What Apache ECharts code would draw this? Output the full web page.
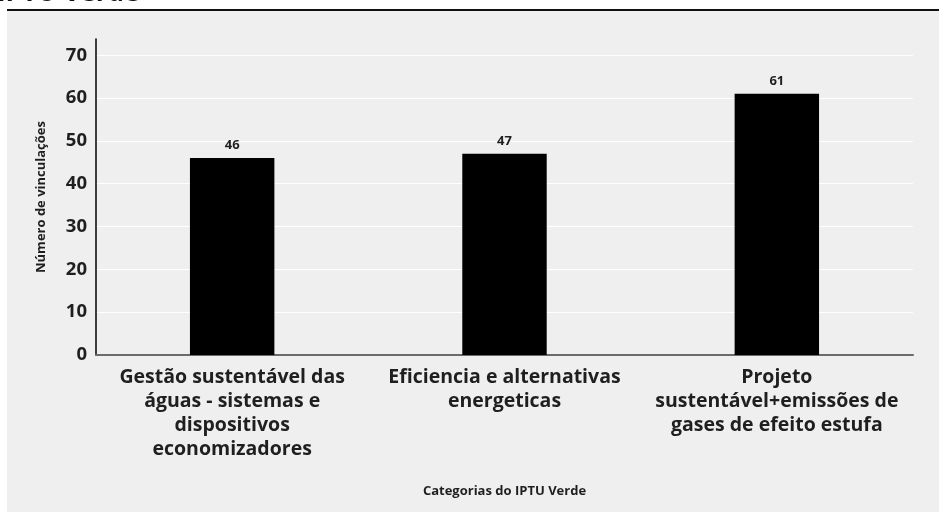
<!DOCTYPE html>
<html>
<head>
<meta charset="utf-8">
<script src="https://cdn.jsdelivr.net/npm/echarts@6/dist/echarts.min.js"></script>
<style>
  html, body { margin: 0; padding: 0; background: #ffffff; }
  #chart { width: 939px; height: 512px; }
</style>
</head>
<body>
<div id="chart"></div>
<script>
// Categorias e número de vinculações por categoria do IPTU Verde
const categories = [
  'Gestão sustentável das\náguas - sistemas e\ndispositivos\neconomizadores',
  'Eficiencia e alternativas\nenergeticas',
  'Projeto\nsustentável+emissões de\ngases de efeito estufa'
];
const vinculacoes = [46, 47, 61];
const yTicks = [0, 10, 20, 30, 40, 50, 60, 70];

const FONT = '"Open Sans", "Noto Sans", sans-serif';
const TEXT = '#1f1f1f';

const chart = echarts.init(document.getElementById('chart'), null, { renderer: 'canvas' });

chart.setOption({
  animation: false,
  backgroundColor: '#ffffff',
  textStyle: { fontFamily: FONT },
  graphic: [
    { type: 'rect', z: -10, shape: { x: 7, y: 11, width: 932, height: 501 },
      style: { fill: '#efefef' } },
    { type: 'rect', z: -9, shape: { x: 7, y: 9, width: 932, height: 2 },
      style: { fill: '#111111' } },
    { type: 'text', left: -3, top: -19, z: 10,
      style: { text: 'IPTU Verde', font: '700 26px ' + FONT, fill: '#111111' } }
  ],
  grid: { left: 96, right: 26, top: 39, bottom: 157, containLabel: false },
  xAxis: {
    type: 'category',
    data: categories,
    name: 'Categorias do IPTU Verde',
    nameLocation: 'middle',
    nameGap: 130,
    nameTextStyle: { fontFamily: FONT, fontWeight: 'bold', fontSize: 13, color: TEXT },
    axisLine: { show: true, lineStyle: { color: '#6b6b6b', width: 2 } },
    axisTick: { show: false },
    splitLine: { show: false },
    axisLabel: {
      interval: 0, margin: 10, fontFamily: FONT, fontWeight: 'bold', fontSize: 19.5,
      color: TEXT, lineHeight: 24, align: 'center'
    }
  },
  yAxis: {
    type: 'value',
    min: 0,
    max: 73.8,
    interval: 10,
    name: 'Número de vinculações',
    nameLocation: 'middle',
    nameGap: 48,
    nameRotate: 90,
    nameTextStyle: { fontFamily: FONT, fontWeight: 'bold', fontSize: 13, color: TEXT },
    axisLine: { show: true, lineStyle: { color: '#000000', width: 1.5 } },
    axisTick: { show: false },
    splitLine: { show: true, showMaxLine: false, showMinLine: false,
                 lineStyle: { color: '#ffffff', width: 1.2 } },
    axisLabel: {
      showMaxLabel: false, margin: 9, fontFamily: FONT, fontWeight: 'bold',
      fontSize: 18.5, color: TEXT, padding: [0, 0, 6, 0],
      formatter: v => (yTicks.indexOf(v) >= 0 ? String(v) : '')
    }
  },
  series: [{
    type: 'bar',
    data: vinculacoes,
    barWidth: '31%',
    itemStyle: { color: '#000000' },
    label: {
      show: true, position: 'top', distance: 6,
      fontFamily: FONT, fontWeight: 'bold', fontSize: 13, color: TEXT
    }
  }]
});
</script>
</body>
</html>
